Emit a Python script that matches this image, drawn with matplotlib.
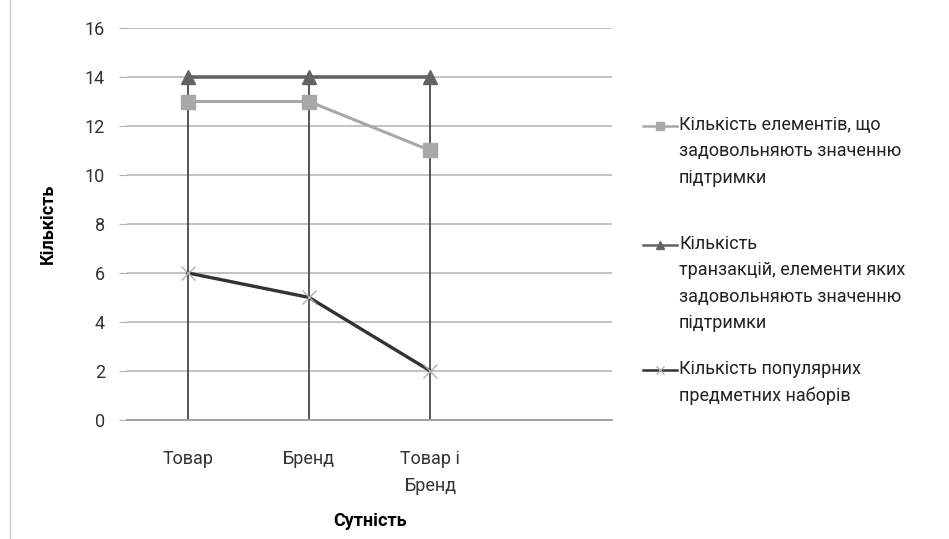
import matplotlib
matplotlib.use('Agg')
import matplotlib.pyplot as plt
from matplotlib.lines import Line2D

plt.rcParams['font.family'] = ['Roboto', 'DejaVu Sans']

# дані
categories = ['Товар', 'Бренд', 'Товар і\nБренд']
elements = [13, 13, 11]
transactions = [14, 14, 14]
itemsets = [6, 5, 2]
labels = ['Кількість елементів, що\nзадовольняють значенню\nпідтримки',
          'Кількість\nтранзакцій, елементи яких\nзадовольняють значенню\nпідтримки',
          'Кількість популярних\nпредметних наборів']

fig = plt.figure(figsize=(9.49, 5.39), dpi=100)
ax = fig.add_axes([0.134, 0.221, 0.511, 0.727])

x = list(range(len(categories)))

# вертикальні лінії від 0 до максимуму
ax.vlines(x, 0, [max(a, b, c) for a, b, c in zip(elements, transactions, itemsets)],
          colors='#3a3a3a', linewidth=1.2, zorder=2)

styles = [
    dict(color='#a8a8a8', marker='s', markersize=10, linewidth=2.2),
    dict(color='#626262', marker='^', markersize=10, linewidth=2.6),
    dict(color='#333333', marker='x', markersize=10, linewidth=2.4, markeredgecolor='#b0b0b0'),
]
series = [elements, transactions, itemsets]
for vals, st in zip(series, styles):
    ax.plot(x, vals, zorder=3, **st)

ax.set_xlim(-0.5, 3.5)
ax.set_ylim(0, 16)
ax.set_yticks(range(0, 17, 2))
ax.set_xticks(x)
ax.set_xticklabels(categories, fontsize=13, color='#333333', linespacing=1.6)
ax.tick_params(axis='y', labelsize=13, colors='#333333', length=6, color='#b0b0b0', pad=10)
ax.tick_params(axis='x', length=0, pad=22)
ax.grid(axis='y', color='#b8b8b8', linewidth=1.2)
ax.set_axisbelow(True)
for s in ['top', 'right', 'left']:
    ax.spines[s].set_visible(False)
ax.spines['bottom'].set_color('#a0a0a0')
ax.spines['bottom'].set_linewidth(1.4)

ax.set_ylabel('Кількість', fontsize=13, fontweight='bold', labelpad=20)
ax.set_xlabel('Сутність', fontsize=13, fontweight='bold', labelpad=12)

# легенда
legend_y = [126, 245, 370]
for ly, lab, st in zip(legend_y, labels, styles):
    yf = 1 - ly / 539
    fig.add_artist(Line2D([643 / 949, 660 / 949, 677 / 949], [yf, yf, yf],
                          transform=fig.transFigure,
                          color=st['color'], linewidth=1.8, marker=st['marker'],
                          markersize=6, markevery=[1],
                          markeredgecolor=st.get('markeredgecolor', st['color'])))
    fig.text(679 / 949, 1 - (ly - 10) / 539, lab, fontsize=13, color='#222222', va='top',
             ha='left', linespacing=1.6, transform=fig.transFigure)

# рамка зліва
fig.add_artist(Line2D([10 / 949, 10 / 949], [0, 1], transform=fig.transFigure,
                      color='#c8c8c8', linewidth=1))

fig.savefig('out.png', dpi=100)
